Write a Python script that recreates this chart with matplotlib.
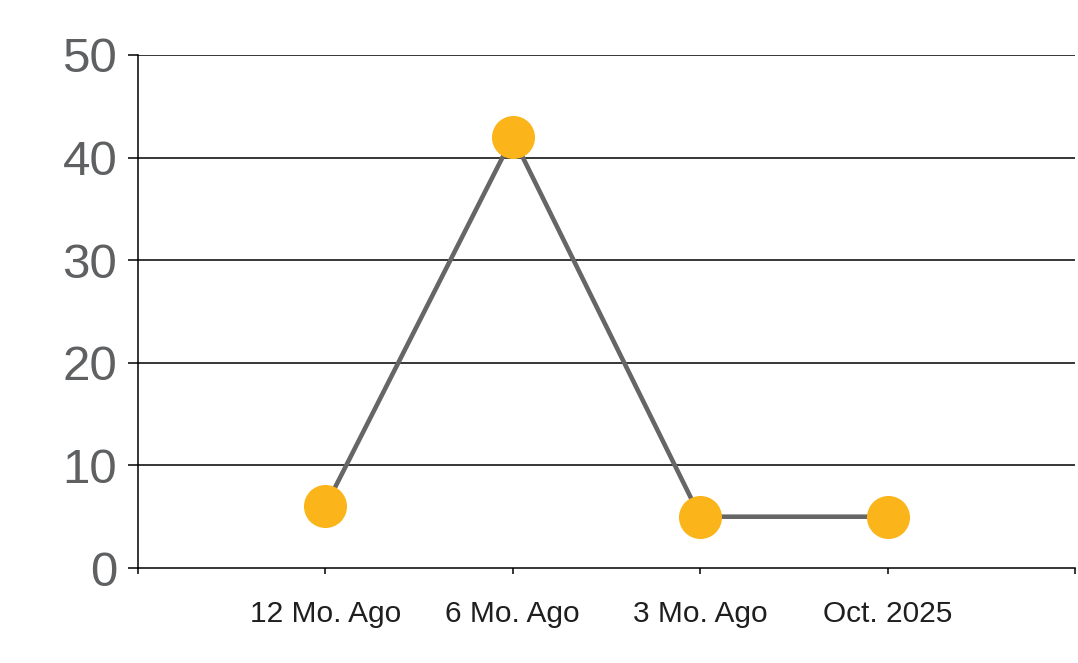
import matplotlib
matplotlib.use("Agg")
import matplotlib.pyplot as plt

categories = ["12 Mo. Ago", "6 Mo. Ago", "3 Mo. Ago", "Oct. 2025"]
values = [6, 42, 5, 5]
y_ticks = [0, 10, 20, 30, 40, 50]

plt.rcParams['font.family'] = ['Liberation Sans', 'DejaVu Sans']

fig = plt.figure(figsize=(10.78, 6.63), dpi=100)
ax = fig.add_axes([138/1078, 1 - 568/663, (1075 - 138)/1078, (568 - 55)/663])

x = list(range(1, len(categories) + 1))
ax.plot(x, values, color="#666666", linewidth=3.3, zorder=3,
        marker="o", markersize=31, markerfacecolor="#FBB41A",
        markeredgecolor="#FBB41A", markeredgewidth=0, clip_on=False)

ax.set_xlim(0, len(categories) + 1)
ax.set_ylim(0, 50)
ax.set_yticks(y_ticks)
ax.set_yticklabels([str(v) for v in y_ticks], fontsize=35.5, color="#5f6062")
ax.set_xticks(range(0, len(categories) + 2))
ax.set_xticklabels([""] + categories + [""], fontsize=21.5, color="#1f1f1f")

for v in y_ticks[1:]:
    ax.axhline(v, color="black", linewidth=1.1, zorder=1)

for s in ["top", "right"]:
    ax.spines[s].set_visible(False)
ax.spines["left"].set_linewidth(1.1)
ax.spines["bottom"].set_linewidth(1.1)

ax.tick_params(axis="y", length=7, width=1.1, pad=8)
ax.tick_params(axis="x", length=4.5, width=1.1, pad=18.5)

fig.savefig("out.png", dpi=100)
